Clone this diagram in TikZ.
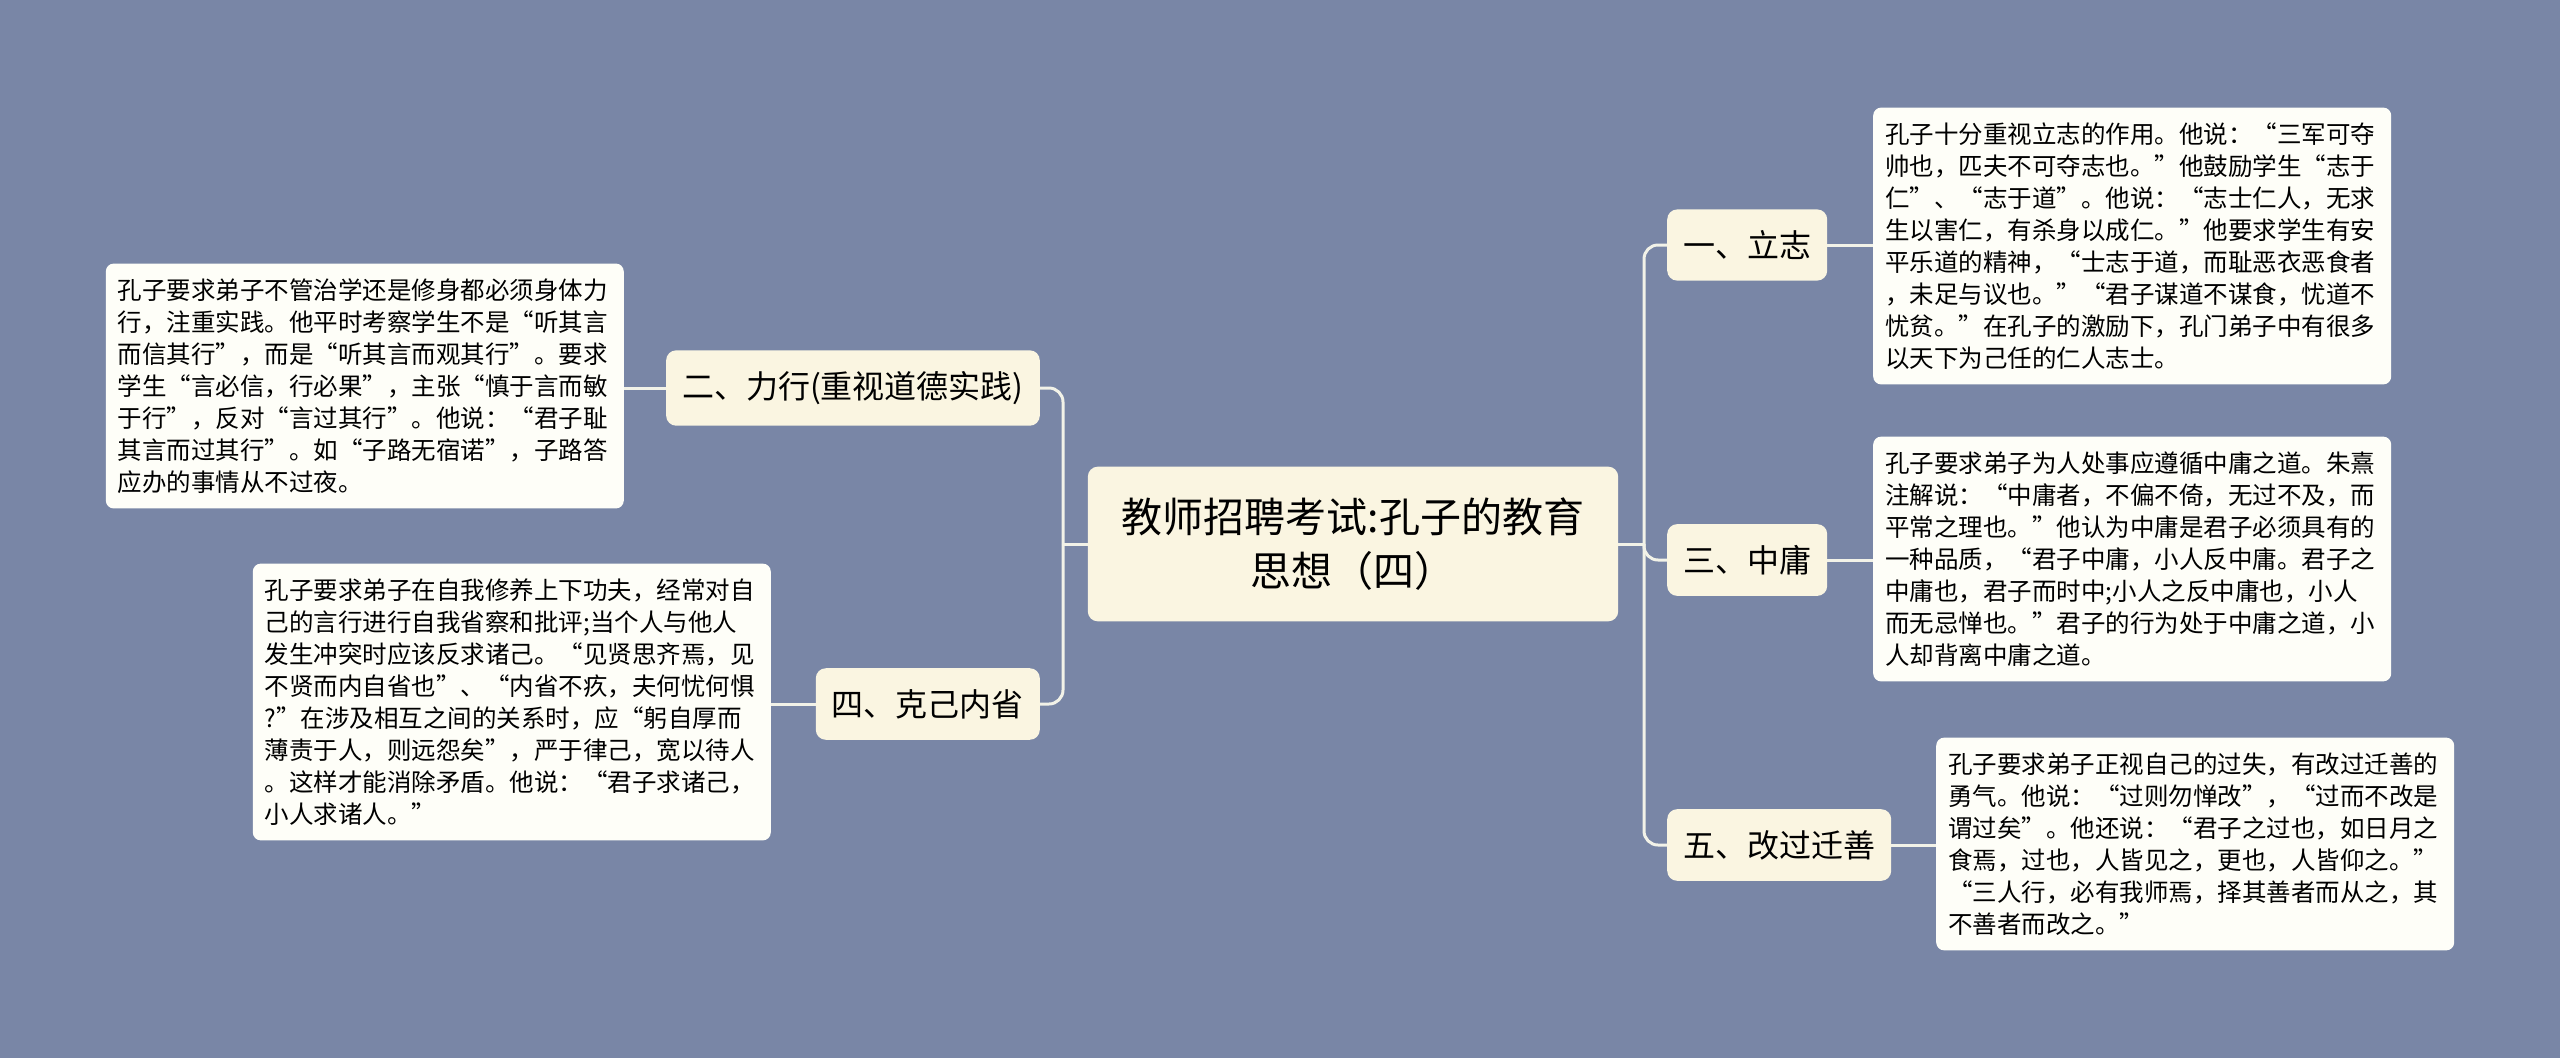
\documentclass[tikz,border=0pt]{standalone}
\usepackage{fontspec}
\usepackage{tikz}
\usetikzlibrary{positioning}
\newfontfamily\cjk{Noto Sans CJK SC}
\definecolor{bgblue}{RGB}{121,134,166}
\definecolor{topfill}{RGB}{250,245,225}
\definecolor{notefill}{RGB}{254,254,248}
\definecolor{linkcol}{RGB}{242,242,232}

\begin{document}
\begin{tikzpicture}[x=1pt,y=-1pt,
  rootbox/.style={rectangle, fill=topfill, rounded corners=10pt, inner xsep=34pt, inner ysep=31pt, align=center, font=\cjk\fontsize{41}{54}\selectfont},
  topic/.style={rectangle, fill=topfill, rounded corners=10pt, inner xsep=16pt, inner ysep=21pt, font=\cjk\fontsize{32}{36}\selectfont},
  note/.style={rectangle, fill=notefill, rounded corners=8pt, inner xsep=12pt, inner ysep=15pt, text width=494pt, align=left, font=\cjk\fontsize{24.5}{32}\selectfont},
  link/.style={draw=linkcol, line width=3pt, rounded corners=14pt}]
  % background
  \fill[bgblue] (0,0) rectangle (2560,1058);

  % root
  \node[rootbox] (root) at (1353,544) {教师招聘考试:孔子的教育\\思想（四）};
  \coordinate (rj) at (1644,544);
  \coordinate (lj) at (1063,544);

  % right topics
  \node[topic, anchor=west] (t1) at (1667,245) {一、立志};
  \node[topic, anchor=west] (t3) at (1667,560) {三、中庸};
  \node[topic, anchor=west] (t5) at (1667,845) {五、改过迁善};

  % left topics
  \node[topic, anchor=east] (t2) at (1040,388) {二、力行(重视道德实践)};
  \node[topic, anchor=east] (t4) at (1040,704) {四、克己内省};

  % notes
  \node[note, anchor=west] (n1) at (1873,246) {孔子十分重视立志的作用。他说：“三军可夺\\帅也，匹夫不可夺志也。”他鼓励学生“志于\\仁”、“志于道”。他说：“志士仁人，无求\\生以害仁，有杀身以成仁。”他要求学生有安\\平乐道的精神，“士志于道，而耻恶衣恶食者\\，未足与议也。”“君子谋道不谋食，忧道不\\忧贫。”在孔子的激励下，孔门弟子中有很多\\以天下为己任的仁人志士。};
  \node[note, anchor=west] (n3) at (1873,559) {孔子要求弟子为人处事应遵循中庸之道。朱熹\\注解说：“中庸者，不偏不倚，无过不及，而\\平常之理也。”他认为中庸是君子必须具有的\\一种品质，“君子中庸，小人反中庸。君子之\\中庸也，君子而时中;小人之反中庸也，小人\\而无忌惮也。”君子的行为处于中庸之道，小\\人却背离中庸之道。};
  \node[note, anchor=west] (n5) at (1936,844) {孔子要求弟子正视自己的过失，有改过迁善的\\勇气。他说：“过则勿惮改”，“过而不改是\\谓过矣”。他还说：“君子之过也，如日月之\\食焉，过也，人皆见之，更也，人皆仰之。”\\“三人行，必有我师焉，择其善者而从之，其\\不善者而改之。”};
  \node[note, anchor=east] (n2) at (624,386) {孔子要求弟子不管治学还是修身都必须身体力\\行，注重实践。他平时考察学生不是“听其言\\而信其行”，而是“听其言而观其行”。要求\\学生“言必信，行必果”，主张“慎于言而敏\\于行”，反对“言过其行”。他说：“君子耻\\其言而过其行”。如“子路无宿诺”，子路答\\应办的事情从不过夜。};
  \node[note, anchor=east] (n4) at (771,702) {孔子要求弟子在自我修养上下功夫，经常对自\\己的言行进行自我省察和批评;当个人与他人\\发生冲突时应该反求诸己。“见贤思齐焉，见\\不贤而内自省也”、“内省不疚，夫何忧何惧\\?”在涉及相互之间的关系时，应“躬自厚而\\薄责于人，则远怨矣”，严于律己，宽以待人\\。这样才能消除矛盾。他说：“君子求诸己，\\小人求诸人。”};

  % links
  \draw[link] (root.east) -- (rj);
  \draw[link] (root.west) -- (lj);
  \draw[link] (rj) |- (t1.west);
  \draw[link] (rj) |- (t3.west);
  \draw[link] (rj) |- (t5.west);
  \draw[link] (lj) |- (t2.east);
  \draw[link] (lj) |- (t4.east);
  \draw[link] (t1.east) -- (t1.east -| n1.west);
  \draw[link] (t3.east) -- (t3.east -| n3.west);
  \draw[link] (t5.east) -- (t5.east -| n5.west);
  \draw[link] (t2.west) -- (t2.west -| n2.east);
  \draw[link] (t4.west) -- (t4.west -| n4.east);
\end{tikzpicture}
\end{document}
